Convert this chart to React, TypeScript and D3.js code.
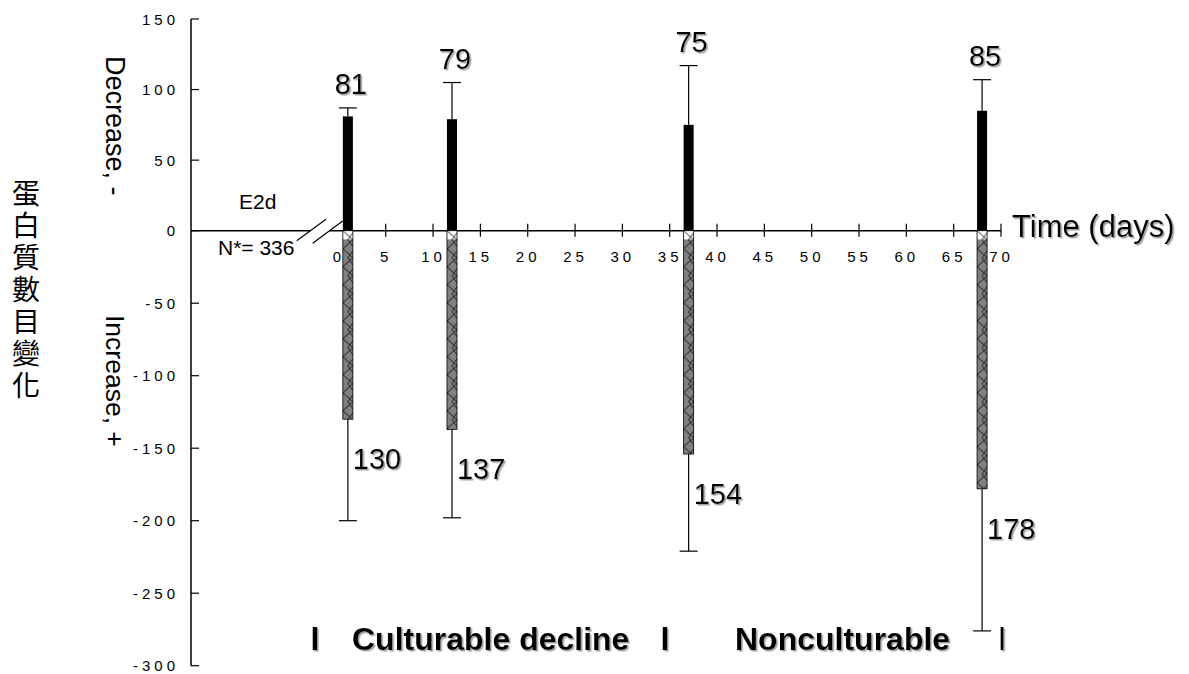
import React from 'react';
import * as d3 from 'd3';

// ---------- data ----------
const days = [1, 12, 37, 68];
const decrease = [81, 79, 75, 85];
const decreaseErr = [6, 26, 42, 22];
const increase = [130, 137, 154, 178];
const increaseErr = [70, 61, 67, 98];
const yTicks = [150, 100, 50, 0, -50, -100, -150, -200, -250, -300];
const xTickMarks = [5, 10, 15, 20, 25, 30, 35, 40, 45, 50, 55, 60, 65, 70];
const xTickLabels = [0, 5, 10, 15, 20, 25, 30, 35, 40, 45, 50, 55, 60, 65, 70];
const zhTitle = '蛋白質數目變化';
const decreaseLabel = 'Decrease, -';
const increaseLabel = 'Increase, +';
const xTitle = 'Time (days)';
const groupLabel = 'E2d';
const nLabel = 'N*= 336';
const phase1 = 'Culturable decline';
const phase2 = 'Nonculturable';

const W = 1189;
const H = 674;
const AX = 191;
const FONT = '"Liberation Sans", Arial, sans-serif';

export default function App() {
  const x = d3.scaleLinear().domain([0, 70]).range([338.4, 1001]);
  const y = d3.scaleLinear().domain([-300, 0, 150]).range([665.7, 230.7, 19]);
  const barW = (x(1) - x(0)) * 1.06;
  const whiteUnits = 6;
  const y0 = y(0);
  const capHalf = 9;

  return (
    <div style={{ position: 'fixed', left: 0, top: 0 }}>
      <svg width={W} height={H} style={{ display: 'block', background: '#fff' }} fontFamily={FONT}>
        <defs>
          <filter id="sh" x="-10%" y="-10%" width="130%" height="140%">
            <feDropShadow dx="1.5" dy="1.5" stdDeviation="0.6" floodColor="#a0a0a0" floodOpacity="1" />
          </filter>
          {days.map((d, i) => (
            <pattern key={i} id={`hatch${i}`} patternUnits="userSpaceOnUse"
              x={x(d) - barW / 2} y={y0} width={barW} height={18}>
              <path d={`M0,0 L${barW},9 L0,18 M${barW},2 L${barW * 0.5},9 L${barW},16`}
                stroke="#000" strokeWidth={0.8} fill="none" />
            </pattern>
          ))}
        </defs>

        {/* y axis */}
        <line x1={AX} x2={AX} y1={y(150)} y2={y(-300)} stroke="#000" strokeWidth={1.5} />
        {yTicks.map(t => (
          <g key={t}>
            <line x1={AX} x2={AX + 8} y1={y(t)} y2={y(t)} stroke="#000" strokeWidth={1.2} />
            <text x={179} y={y(t)} textAnchor="end" dominantBaseline="central" fontSize={15}
              letterSpacing={4} fill="#000">{t}</text>
          </g>
        ))}

        {/* x axis with break */}
        <line x1={AX} x2={x(0) - 28} y1={y0} y2={y0} stroke="#000" strokeWidth={1.5} />
        <line x1={x(0) - 9} x2={x(70)} y1={y0} y2={y0} stroke="#000" strokeWidth={1.5} />
        <line x1={x(0) - 41.7} y1={y0 + 10} x2={x(0) - 12.4} y2={y0 - 11.4} stroke="#000" strokeWidth={1.2} />
        <line x1={x(0) - 25.7} y1={y0 + 12.6} x2={x(0) + 4.3} y2={y0 - 9.7} stroke="#000" strokeWidth={1.2} />
        {xTickMarks.map(t => (
          <line key={t} x1={x(t)} x2={x(t)} y1={y0 - 7} y2={y0 + 6} stroke="#000" strokeWidth={1.2} />
        ))}
        {xTickLabels.map(t => (
          <text key={t} x={x(t) + 0.5} y={y0 + 26} textAnchor="middle" dominantBaseline="central"
            fontSize={15} letterSpacing={4} fill="#000">{t}</text>
        ))}

        {/* bars */}
        {days.map((d, i) => {
          const cx = x(d);
          const left = cx - barW / 2;
          const topY = y(decrease[i]);
          const upY = y(decrease[i] + decreaseErr[i]);
          const botY = y(-increase[i]);
          const lowY = y(-increase[i] - increaseErr[i]);
          return (
            <g key={d}>
              <line x1={cx} x2={cx} y1={topY} y2={upY} stroke="#000" strokeWidth={1.2} />
              <line x1={cx - capHalf} x2={cx + capHalf} y1={upY} y2={upY} stroke="#000" strokeWidth={1.2} />
              <rect x={left} y={topY} width={barW} height={y0 - topY} fill="#000" />
              <line x1={cx} x2={cx} y1={botY} y2={lowY} stroke="#000" strokeWidth={1.2} />
              <line x1={cx - capHalf} x2={cx + capHalf} y1={lowY} y2={lowY} stroke="#000" strokeWidth={1.2} />
              <rect x={left} y={y0} width={barW} height={y(-whiteUnits) - y0} fill="#fff" />
              <rect x={left} y={y(-whiteUnits)} width={barW} height={botY - y(-whiteUnits)} fill="#808080" />
              <rect x={left} y={y0} width={barW} height={botY - y0} fill={`url(#hatch${i})`}
                stroke="#000" strokeWidth={0.8} />
              <text x={cx + 3} y={upY - 14} textAnchor="middle" fontSize={29} fill="#000"
                filter="url(#sh)">{decrease[i]}</text>
              <text x={cx + 5} y={botY + 50} textAnchor="start" fontSize={29} fill="#000"
                filter="url(#sh)">{increase[i]}</text>
            </g>
          );
        })}

        {/* annotations */}
        <text x={239} y={209} fontSize={21} fill="#000">{groupLabel}</text>
        <text x={218} y={255} fontSize={21} fill="#000">{nLabel}</text>
        <text x={1012} y={237} fontSize={31} fill="#000" filter="url(#sh)">{xTitle}</text>

        <text transform={`translate(106,56) rotate(90)`} fontSize={27} fill="#000">{decreaseLabel}</text>
        <text transform={`translate(106,315) rotate(90)`} fontSize={26.5} fill="#000">{increaseLabel}</text>

        <text x={26} y={179} fontSize={28} fill="#000" fontWeight={400}
          fontFamily='"Noto Sans CJK TC", sans-serif'
          style={{ writingMode: 'vertical-rl', letterSpacing: '4px' }}>{zhTitle}</text>

        <g fontWeight="bold" fontSize={32} fill="#000" filter="url(#sh)">
          <text x={315} y={650} textAnchor="middle">l</text>
          <text x={352} y={650}>{phase1}</text>
          <text x={665} y={650} textAnchor="middle">l</text>
          <text x={735} y={650}>{phase2}</text>
          <text x={1002} y={650} textAnchor="middle" fontWeight="normal">l</text>
        </g>
      </svg>
    </div>
  );
}
